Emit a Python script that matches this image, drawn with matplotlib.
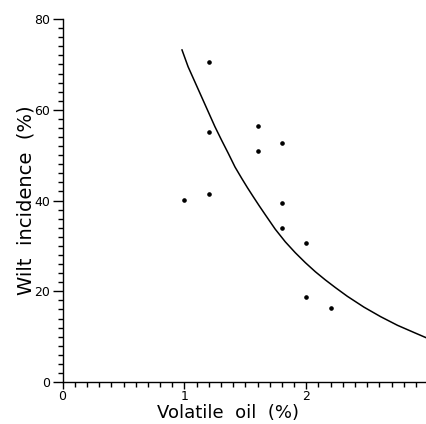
import numpy as np
import matplotlib
matplotlib.use('Agg')
import matplotlib.pyplot as plt
from matplotlib.ticker import MultipleLocator

# observed points
oil = [1.0, 1.2, 1.2, 1.2, 1.6, 1.6, 1.8, 1.8, 1.8, 2.0, 2.0, 2.2]
wilt = [40.1, 70.5, 55.1, 41.4, 56.4, 50.9, 52.6, 39.4, 33.9, 30.6, 18.8, 16.3]

# fitted curve
curve_x = [0.98, 1.03, 1.085, 1.14, 1.195, 1.25, 1.305, 1.36, 1.415, 1.47,
           1.518, 1.566, 1.615, 1.663, 1.745, 1.828, 1.91, 1.993, 2.075,
           2.157, 2.24, 2.337, 2.474, 2.611, 2.749, 2.886, 2.99]
curve_y = [73.2, 69.5, 66.2, 62.9, 59.6, 56.3, 53.3, 50.4, 47.4, 44.9,
           42.8, 40.8, 38.8, 36.9, 33.7, 30.9, 28.5, 26.3, 24.3,
           22.5, 20.8, 18.9, 16.5, 14.4, 12.5, 10.9, 9.7]

plt.rcParams['font.family'] = 'DejaVu Sans'

fig = plt.figure(figsize=(4.26, 4.24), dpi=100)
ax = fig.add_axes([0.147, 0.099, 0.855, 0.856])

ax.plot(oil, wilt, 'o', color='black', markersize=2.3)
ax.plot(curve_x, curve_y, '-', color='black', linewidth=1.1,
        solid_joinstyle='round')

ax.set_xlim(0, 2.99)
ax.set_ylim(0, 80)
ax.spines['top'].set_visible(False)
ax.spines['right'].set_visible(False)
ax.spines['left'].set_linewidth(1.0)
ax.spines['bottom'].set_linewidth(1.0)

ax.xaxis.set_major_locator(MultipleLocator(1))
ax.xaxis.set_minor_locator(MultipleLocator(0.1))
ax.yaxis.set_major_locator(MultipleLocator(20))
ax.yaxis.set_minor_locator(MultipleLocator(2))
ax.tick_params(axis='y', which='major', direction='out', length=7, width=1,
               labelsize=9, pad=2)
ax.tick_params(axis='x', which='major', direction='out', length=5, width=1,
               labelsize=9, pad=0.5)
ax.tick_params(which='minor', direction='out', length=3.5, width=1)

ax.set_xlabel('Volatile  oil  (%)', fontsize=13)
ax.xaxis.set_label_coords(0.455, -0.06)
ax.set_ylabel('Wilt  incidence  (%)', fontsize=14)
ax.yaxis.set_label_coords(-0.075, 0.5)

fig.savefig('out.png', dpi=100)
